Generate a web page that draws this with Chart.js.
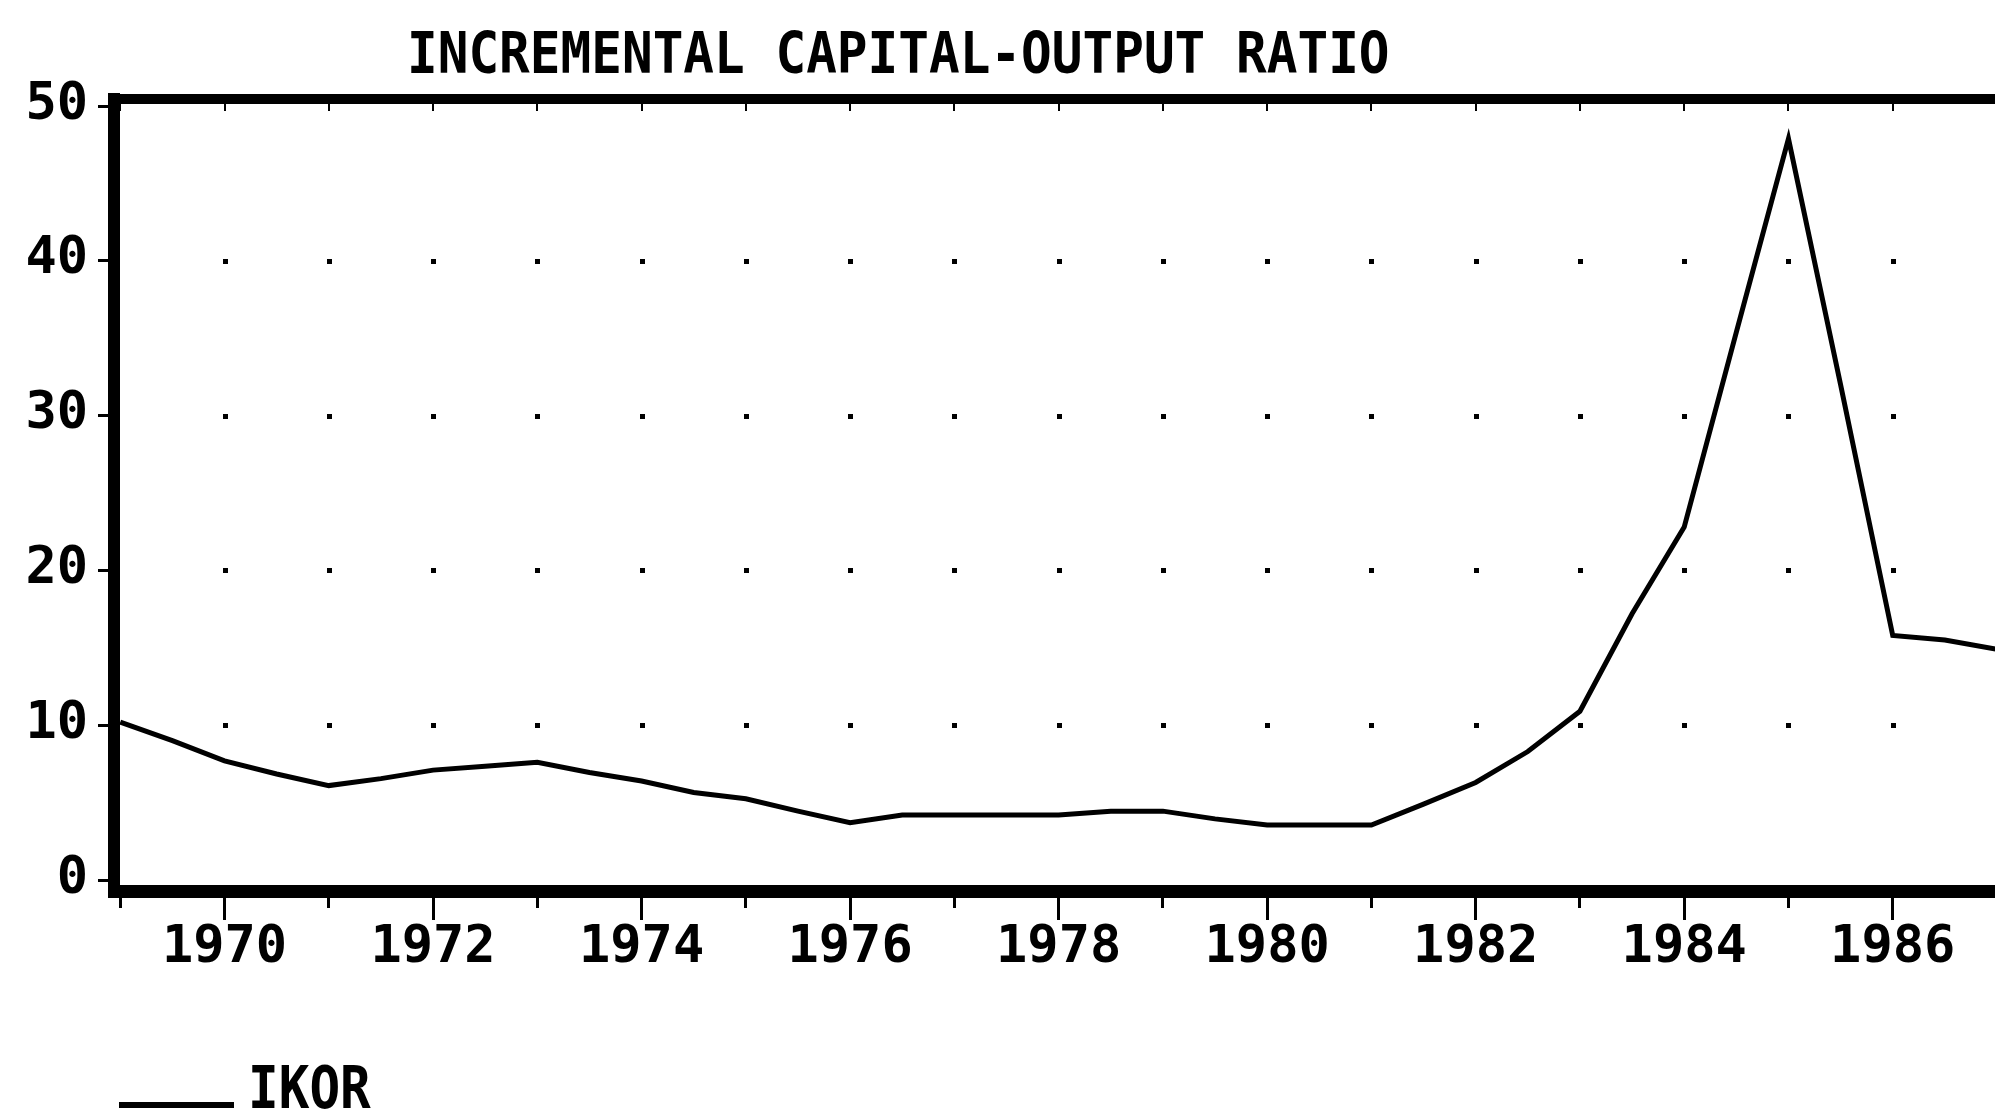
<!DOCTYPE html>
<html lang="en">
<head>
<meta charset="UTF-8">
<title>Incremental capital-output ratio</title>
<style>
    html, body {
        margin: 0;
        padding: 0;
        background: #fff;
        overflow: hidden;
    }
    body {
        width: 1995px;
        height: 1113px;
        position: relative;
    }
    #chart {
        position: absolute;
        left: 0;
        top: 0;
    }
    .title, .legend-text {
        position: absolute;
        font-family: 'DejaVu Sans Mono', monospace;
        font-weight: bold;
        font-size: 51px;
        line-height: 1;
        white-space: nowrap;
        color: #000;
    }
    .title {
        left: 407px;
        top: 28px;
        transform: scaleY(1.13);
        transform-origin: 0 24px;
    }
    .legend-line {
        position: absolute;
        left: 119px;
        top: 1102px;
        width: 115px;
        height: 6px;
        background: #000;
    }
    .legend-text {
        left: 248px;
        top: 1065px;
        transform: scaleY(1.15);
        transform-origin: 0 43px;
    }
</style>
</head>
<body>
    <div class="title">INCREMENTAL CAPITAL-OUTPUT RATIO</div>
    <canvas id="chart" width="1997" height="1113"></canvas>
    <div class="legend-line"></div>
    <div class="legend-text">IKOR</div>

    <script src="https://cdn.jsdelivr.net/npm/chart.js"></script>
    <script>
        // values, every half year
        const years = [
            1969, 1969.5, 1970, 1970.5, 1971, 1971.5, 1972, 1972.5, 1973, 1973.5,
            1974, 1974.5, 1975, 1975.5, 1976, 1976.5, 1977, 1977.5, 1978, 1978.5,
            1979, 1979.5, 1980, 1980.5, 1981, 1981.5, 1982, 1982.5, 1983, 1983.5,
            1984, 1984.5, 1985, 1985.5, 1986, 1986.5, 1987
        ];
        const ikor = [
            10.2, 9.0, 7.7, 6.85, 6.1, 6.55, 7.1, 7.35, 7.6, 6.95,
            6.4, 5.65, 5.25, 4.45, 3.7, 4.2, 4.2, 4.2, 4.2, 4.45,
            4.45, 3.95, 3.55, 3.55, 3.55, 4.9, 6.3, 8.3, 10.9, 17.2,
            22.8, 35.4, 47.9, 32.0, 15.8, 15.5, 14.9
        ];
        const seriesName = 'IKOR';
        const yTickStep = 10;
        const xTickStep = 1;

        const tickFont = { family: "'DejaVu Sans Mono', monospace", size: 52, weight: 'bold' };
        const xMin = 1968.94, xMax = 1987;

        // dotted grid: one dot at every year / every y tick inside the frame
        const dotGrid = {
            id: 'dotGrid',
            beforeDatasetsDraw(chart) {
                const { ctx, scales: { x, y } } = chart;
                ctx.save();
                ctx.fillStyle = '#000';
                x.ticks.forEach(t => {
                    if (t.value - x.min < 0.5) return;
                    y.ticks.forEach(u => {
                        if (u.value <= 0 || u.value >= 50) return;
                        const px = Math.round(x.getPixelForValue(t.value));
                        const py = Math.round(y.getPixelForValue(u.value));
                        ctx.fillRect(px - 2, py - 2, 5, 5);
                    });
                });
                ctx.restore();
            }
        };

        new Chart(document.getElementById('chart'), {
            type: 'line',
            data: {
                datasets: [{
                    label: seriesName,
                    data: years.map((yr, i) => ({ x: yr, y: ikor[i] })),
                    borderColor: '#000',
                    borderWidth: 5,
                    pointRadius: 0,
                    tension: 0,
                    fill: false
                }]
            },
            options: {
                responsive: false,
                animation: false,
                layout: { padding: 0 },
                plugins: {
                    legend: { display: false },
                    title: { display: false },
                    tooltip: { enabled: false }
                },
                scales: {
                    x: {
                        type: 'linear',
                        min: xMin,
                        max: xMax,
                        afterFit: s => { s.height = 1113 - 891; },
                        ticks: {
                            stepSize: xTickStep,
                            includeBounds: false,
                            autoSkip: false,
                            maxRotation: 0,
                            padding: -3,
                            color: '#000',
                            font: tickFont,
                            callback: v => (v % 2 === 0 ? String(v) : '')
                        },
                        grid: {
                            drawOnChartArea: false,
                            tickLength: 29,
                            tickWidth: 3,
                            tickColor: '#000',
                            tickBorderDash: c => (c.tick && c.tick.value % 2 ? [10, 100] : [])
                        },
                        border: { color: '#000', width: 13 }
                    },
                    x2: {
                        type: 'linear',
                        position: 'top',
                        display: true,
                        min: xMin,
                        max: xMax,
                        afterFit: s => { s.height = 99; },
                        ticks: { display: false, stepSize: xTickStep, includeBounds: false },
                        grid: { drawOnChartArea: true, drawTicks: false, color: '#000', lineWidth: 2 },
                        border: { color: '#000', width: 10, dash: [7, 2000] }
                    },
                    y: {
                        min: -0.71,
                        max: 50.46,
                        afterFit: s => { s.width = 114; },
                        ticks: {
                            stepSize: yTickStep,
                            includeBounds: false,
                            padding: 10,
                            labelOffset: -1,
                            color: '#000',
                            font: tickFont
                        },
                        grid: {
                            drawOnChartArea: false,
                            tickLength: 16,
                            tickWidth: 3,
                            tickColor: '#000'
                        },
                        border: { color: '#000', width: 12 }
                    }
                }
            },
            plugins: [dotGrid]
        });
    </script>
</body>
</html>
